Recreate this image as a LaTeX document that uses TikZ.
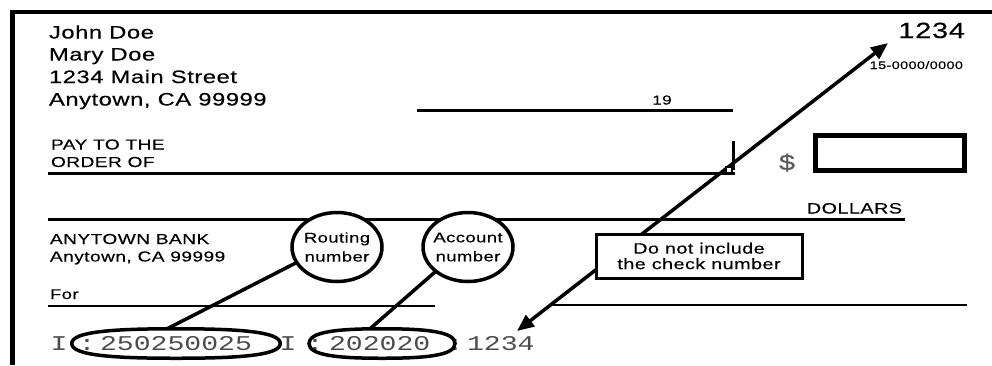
\documentclass[tikz,border=0pt]{standalone}
\usepackage{fontspec}
\setmainfont{Liberation Sans}
\newfontfamily\ck[FakeStretch=1.32,LetterSpace=3,FakeBold=0.3]{Liberation Sans}
\newfontfamily\ckmicr[FakeStretch=1.34]{Liberation Mono}
\usetikzlibrary{shapes.geometric,arrows.meta}
\newcommand\ckfs[2]{\fontsize{#1}{#2}\selectfont}
\tikzset{
  txt/.style={inner sep=0pt, outer sep=0pt},
  micrtxt/.style={inner sep=0pt, outer sep=0pt, font=\ckmicr\ckfs{21}{24}, text=black!70},
  rule/.style={line width=3pt},
  thinrule/.style={line width=1.6pt},
  ring/.style={ellipse, draw, fill=white, line width=3.5pt, inner sep=0pt, outer sep=0pt, minimum width=90pt, minimum height=69pt},
  ovalframe/.style={rectangle, inner sep=0pt, outer sep=0pt, minimum height=29.5pt},
  ovalline/.style={line width=3.5pt},
  pointer/.style={line width=3.5pt},
  bigarrow/.style={line width=3.5pt, {Triangle[length=17pt,width=14pt]}-{Triangle[length=17pt,width=14pt]}},
}
\begin{document}
\begin{tikzpicture}[x=1pt,y=-1pt]
\useasboundingbox (0,0) rectangle (992,365);
% border
\draw[line width=3.5pt] (10,12) -- (992,12);
\draw[line width=5pt] (12.5,10) -- (12.5,365);
% name block
\node[txt, anchor=base west, font=\ck\ckfs{18}{21}] (name1) at (49,38.5) {John Doe};
\node[txt, anchor=base west, font=\ck\ckfs{18}{21}] (name2) at (49,60.5) {Mary Doe};
\node[txt, anchor=base west, font=\ck\ckfs{18}{21}] (addr1) at (49,83) {1234 Main Street};
\node[txt, anchor=base west, font=\ck\ckfs{18}{21}] (addr2) at (49,105.5) {Anytown, CA 99999};
% check number and fraction
\node[txt, anchor=base east, font=\ck\ckfs{22}{26}] (checknum) at (965,38) {1234};
\node[txt, anchor=base east, font=\ck\ckfs{11}{13}] (fraction) at (963,69) {15-0000/0000};
% date line
\draw[rule] (417,110) -- (733,110);
\node[txt, anchor=base, font=\ck\ckfs{13}{15}] (year) at (662,104.5) {19};
% pay to the order of
\node[txt, anchor=base west, font=\ck\ckfs{14.5}{16}] (pay1) at (51,149.5) {PAY TO THE};
\node[txt, anchor=base west, font=\ck\ckfs{14.5}{16}] (pay2) at (51,167) {ORDER OF};
\draw[rule] (48,173) -- (735,173);
\draw[rule] (733,141) -- (733,170);
\node[txt, anchor=base, font=\ck\ckfs{22}{26}, text=black!65] (dollarsign) at (787,170) {\$};
\node[draw, line width=5pt, inner sep=0pt, outer sep=0pt, minimum width=149pt, minimum height=35pt] (amountbox) at (890,153) {};
% dollars line
\node[txt, anchor=base east, font=\ck\ckfs{15}{17}] (dollars) at (902,213.5) {DOLLARS};
\draw[rule] (48,219) -- (905,219);
% bank
\node[txt, anchor=base west, font=\ck\ckfs{14.5}{17}] (bank1) at (50,244) {ANYTOWN BANK};
\node[txt, anchor=base west, font=\ck\ckfs{14.5}{17}] (bank2) at (50,261.5) {Anytown, CA 99999};
% memo
\node[txt, anchor=base west, font=\ck\ckfs{14}{16}] (memo) at (50,299) {For};
\draw[line width=2pt] (48,306) -- (435,306);
\draw[thinrule] (553,305) -- (967,305);
% MICR line
\node[micrtxt, anchor=base] (micrI1) at (59,350) {I};
\node[micrtxt, anchor=base] (micrC1) at (87,350) {:};
\node[micrtxt, anchor=base west] (micrR) at (100,350) {250250025};
\node[micrtxt, anchor=base] (micrI2) at (288,350) {I};
\node[micrtxt, anchor=base] (micrC2) at (315,350) {:};
\node[micrtxt, anchor=base west] (micrA) at (329,350) {202020};
\node[micrtxt, anchor=base] (micrC3) at (455,350) {:};
\node[micrtxt, anchor=base west] (micrN) at (467,350) {1234};
\node[ovalframe, minimum width=208.5pt] (micr1) at (176,343.5) {};
\node[ovalframe, minimum width=146pt] (micr2) at (382,343.5) {};
\draw[ovalline] (micr1.west) .. controls +(0,-11.8) and +(-64,0) .. (micr1.north)
  .. controls +(64,0) and +(0,-11.8) .. (micr1.east)
  .. controls +(0,11.8) and +(64,0) .. (micr1.south)
  .. controls +(-64,0) and +(0,11.8) .. (micr1.west) -- cycle;
\draw[ovalline] (micr2.west) .. controls +(0,-11.8) and +(-45,0) .. (micr2.north)
  .. controls +(45,0) and +(0,-11.8) .. (micr2.east)
  .. controls +(0,11.8) and +(45,0) .. (micr2.south)
  .. controls +(-45,0) and +(0,11.8) .. (micr2.west) -- cycle;
% callout circles
\node[ring] (rout) at (337,247) {};
\node[txt, align=center, font=\ck\ckfs{14}{19}] (routtext) at (337,247) {Routing\\number};
\node[ring] (acct) at (468,247) {};
\node[txt, align=center, font=\ck\ckfs{14}{19}] (accttext) at (468,247) {Account\\number};
\draw[pointer] (rout.201) -- (micr1.121);
\draw[pointer] (acct.217) -- (micr2.129);
% big arrow
\coordinate (tiplow) at (517,331);
\coordinate (tiphigh) at (888,43);
\draw[bigarrow] (tiplow) -- (tiphigh);
\node[draw, fill=white, line width=1.5pt, inner sep=0pt, minimum size=6pt] (crossmark) at (729,170) {};
% note box
\node[draw, fill=white, line width=3pt, inner sep=0pt, minimum width=206pt, minimum height=44pt, align=center, font=\ck\ckfs{15}{15.5}] (note) at (699,256) {Do not include\\the check number};
\end{tikzpicture}
\end{document}
